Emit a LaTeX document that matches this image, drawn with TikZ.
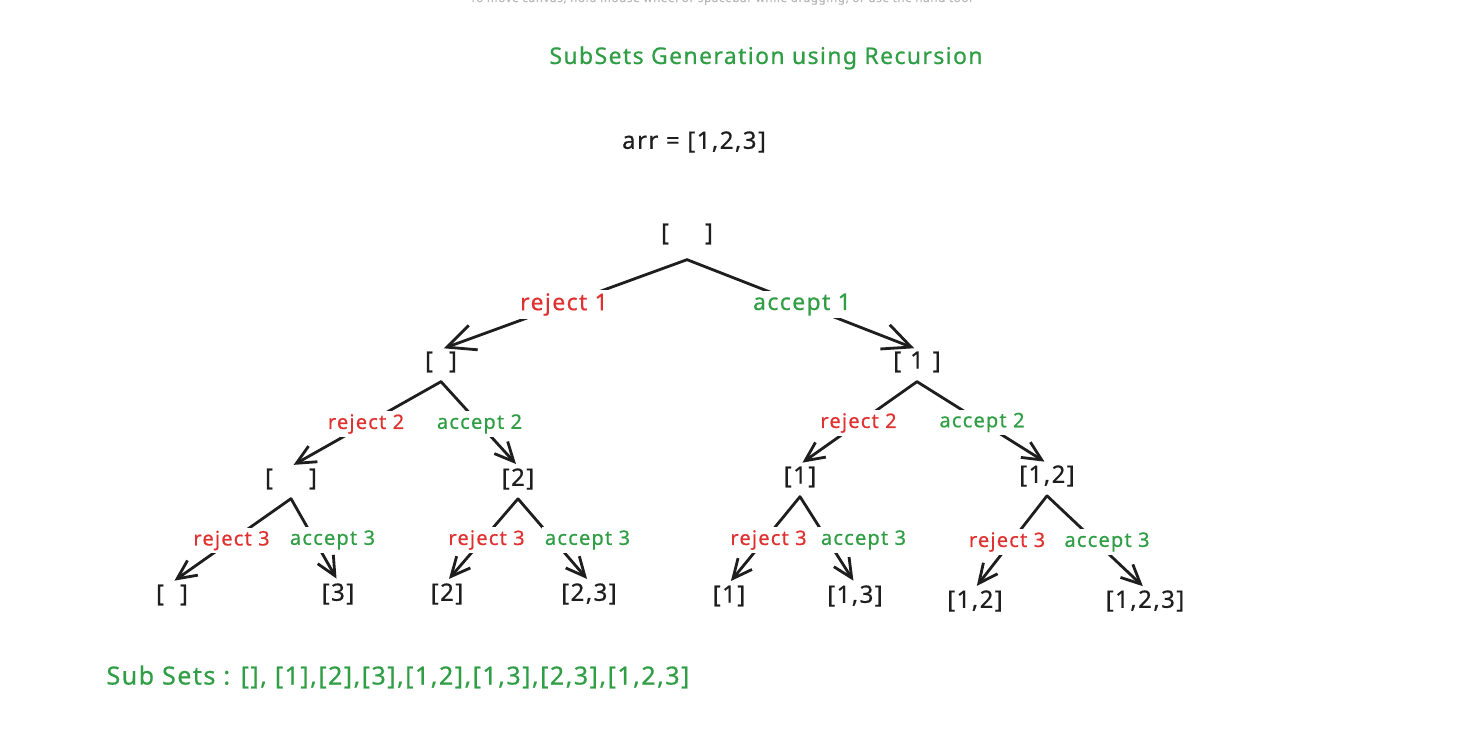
\documentclass[tikz,border=0pt]{standalone}
\usepackage{fontspec}
\setmainfont{Noto Sans}[LetterSpace=6, FakeBold=0.6]
\usepackage{xcolor}
\usetikzlibrary{arrows.meta}

\definecolor{exgreen}{HTML}{2F9E44}
\definecolor{exred}{HTML}{E03131}
\definecolor{exink}{HTML}{1E1E1E}

\begin{document}
\begin{tikzpicture}[x=1pt, y=-1pt,
    set/.style={text=exink, inner sep=2pt, font=\fontsize{24}{28}\selectfont},
    edge/.style={draw=exink, line width=2.8pt, line cap=round, shorten >=3pt,
      -{Straight Barb[length=19pt,width=18pt,line width=2.8pt]}},
    bigedge/.style={edge, -{Straight Barb[length=28pt,width=26pt,line width=2.8pt]}},
    lbl/.style={fill=white, inner sep=3pt, font=\fontsize{20}{24}\selectfont},
    rej/.style={lbl, text=exred},
    acc/.style={lbl, text=exgreen}]

  % Canvas
  \clip (0,0) rectangle (1482,735);
  \fill[white] (0,0) rectangle (1482,735);

  % Header
  \node[anchor=base, text=gray!55, font=\fontsize{11.5}{14}\selectfont] (hint) at (721,2)
    {To move canvas, hold mouse wheel or spacebar while dragging, or use the hand tool};
  \node[text=exgreen, font=\fontsize{23}{28}\selectfont] (title) at (766,58)
    {SubSets Generation using Recursion};
  \node[set] (arr) at (694,142) {arr = [1,2,3]};

  % Root and level 1
  \node[set] (n0) at (687,234) {[\hspace{36pt}]};
  \node[set] (l) at (441,362) {[\hspace{16pt}]};
  \node[set] (r) at (917,362) {[\hspace{9pt}1\hspace{9pt}]};

  % Level 2
  \node[set] (ll) at (291,479) {[\hspace{36pt}]};
  \node[set] (lr) at (518,479) {[2]};
  \node[set] (rl) at (800,477) {[1]};
  \node[set] (rr) at (1047,476) {[1,2]};

  % Level 3 (the subsets)
  \node[set] (lll) at (172,595) {[\hspace{16pt}]};
  \node[set] (llr) at (338,594) {[3]};
  \node[set] (lrl) at (447,594) {[2]};
  \node[set] (lrr) at (589,594) {[2,3]};
  \node[set] (rll) at (729,596) {[1]};
  \node[set] (rlr) at (855,596) {[1,3]};
  \node[set] (rrl) at (975,601) {[1,2]};
  \node[set] (rrr) at (1145,601) {[1,2,3]};

  % Choices for element 1
  \draw[bigedge] ([yshift=-13pt]n0.south) -- node[rej, font=\fontsize{23}{28}\selectfont] {reject 1} (l.north);
  \draw[bigedge] ([yshift=-13pt]n0.south) -- node[acc, font=\fontsize{23}{28}\selectfont] {accept 1} (r.north);

  % Choices for elements 2 and 3
  \foreach \p/\c/\s/\t/\d in {l/ll/rej/reject 2/0, l/lr/acc/accept 2/0,
      r/rl/rej/reject 2/0, r/rr/acc/accept 2/0,
      ll/lll/rej/reject 3/0, ll/llr/acc/accept 3/18,
      lr/lrl/rej/reject 3/4, lr/lrr/acc/accept 3/34,
      rl/rll/rej/reject 3/4, rl/rlr/acc/accept 3/36,
      rr/rrl/rej/reject 3/-4, rr/rrr/acc/accept 3/11} {
    \draw[edge] ([yshift=-7pt]\p.south) -- node[\s, xshift=\d pt] {\t} (\c.north);
  }

  % Result
  \node[anchor=west, text=exgreen, font=\fontsize{25}{30}\selectfont] (result) at (103,677)
    {Sub Sets : [], [1],[2],[3],[1,2],[1,3],[2,3],[1,2,3]};
\end{tikzpicture}
\end{document}
